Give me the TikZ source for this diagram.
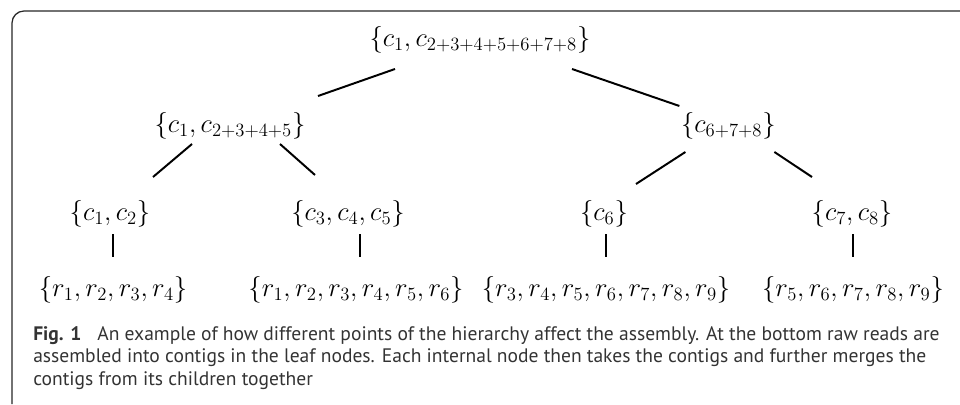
\RequirePackage{fix-cm}
\documentclass[tikz,border=0pt]{standalone}
\usepackage{amsmath}
\usepackage{fontspec}
\newfontfamily\capfont{PT Sans}
\usetikzlibrary{calc}

\begin{document}
\begin{tikzpicture}[
    % set of contigs / reads
    set/.style={font=\fontsize{19}{22}\selectfont, inner sep=0pt},
    % tree branch (short segment)
    branch/.style={line width=1.4pt},
    % frame on the left and top
    frame/.style={line width=0.9pt, draw=black!85, rounded corners=0.3cm},
    % caption text
    captext/.style={font=\capfont\fontsize{13.9}{16}\selectfont, text=black!80,
        align=left, anchor=north west, inner sep=0pt}
]
    \useasboundingbox (0,0) rectangle (24,10.1);

    % 1. frame
    \draw[frame] (0.3,0) -- (0.3,9.825) -- (24,9.825);

    % 2. heights of the levels
    \def\yRoot{9.1}
    \def\yMid{6.95}
    \def\yLow{4.75}
    \def\yLeaf{2.85}

    % 3. internal nodes
    \node[set] (root) at (12.0,\yRoot) {$\{c_1, c_{2+3+4+5+6+7+8}\}$};
    \node[set] (l1a) at (5.75,\yMid) {$\{c_1, c_{2+3+4+5}\}$};
    \node[set] (l1b) at (18.21,\yMid) {$\{c_{6+7+8}\}$};

    % 4. leaf nodes (contigs) and their reads
    \node[set] (c12) at (2.75,\yLow) {$\{c_1, c_2\}$};
    \node[set] (c345) at (8.7,\yLow) {$\{c_3, c_4, c_5\}$};
    \node[set] (c6) at (15.1,\yLow) {$\{c_6\}$};
    \node[set] (c78) at (21.3,\yLow) {$\{c_7, c_8\}$};

    \node[set] (rA) at (2.825,\yLeaf) {$\{r_1, r_2, r_3, r_4\}$};
    \node[set] (rB) at (8.9,\yLeaf) {$\{r_1, r_2, r_3, r_4, r_5, r_6\}$};
    \node[set] (rC) at (15.15,\yLeaf) {$\{r_3, r_4, r_5, r_6, r_7, r_8, r_9\}$};
    \node[set] (rD) at (21.325,\yLeaf) {$\{r_5, r_6, r_7, r_8, r_9\}$};

    % 5. branches
    \draw[branch] ($(root)+(-2.125,-0.725)$) -- ($(l1a)+(2.2,0.75)$);
    \draw[branch] ($(root)+(2.3,-0.725)$) -- ($(l1b)+(-1.225,0.5)$);
    \draw[branch] ($(l1a)+(-0.95,-0.45)$) -- ($(c12)+(1.075,0.925)$);
    \draw[branch] ($(l1a)+(1.25,-0.45)$) -- ($(c345)+(-0.825,0.975)$);
    \draw[branch] ($(l1b)+(-1.075,-0.65)$) -- ($(c6)+(0.8,0.75)$);
    \draw[branch] ($(l1b)+(1.15,-0.65)$) -- ($(c78)+(-1.0,0.925)$);

    \draw[branch] ($(c12 -| rA)+(0,-0.5)$) -- ($(rA)+(0,0.825)$);
    \draw[branch] ($(c345 -| rB)+(0.1,-0.5)$) -- ($(rB)+(0.1,0.825)$);
    \draw[branch] ($(c6 -| rC)+(0,-0.5)$) -- ($(rC)+(0,0.825)$);
    \draw[branch] ($(c78 -| rD)+(0,-0.5)$) -- ($(rD)+(0,0.825)$);

    % 6. caption
    \node[captext] (cap) at (0.825,1.95) {\textbf{Fig. 1}\hspace{0.55em} An example of how different points of the hierarchy affect the assembly. At the bottom raw reads are\\
        assembled into contigs in the leaf nodes. Each internal node then takes the contigs and further merges the\\
        contigs from its children together};

\end{tikzpicture}
\end{document}
